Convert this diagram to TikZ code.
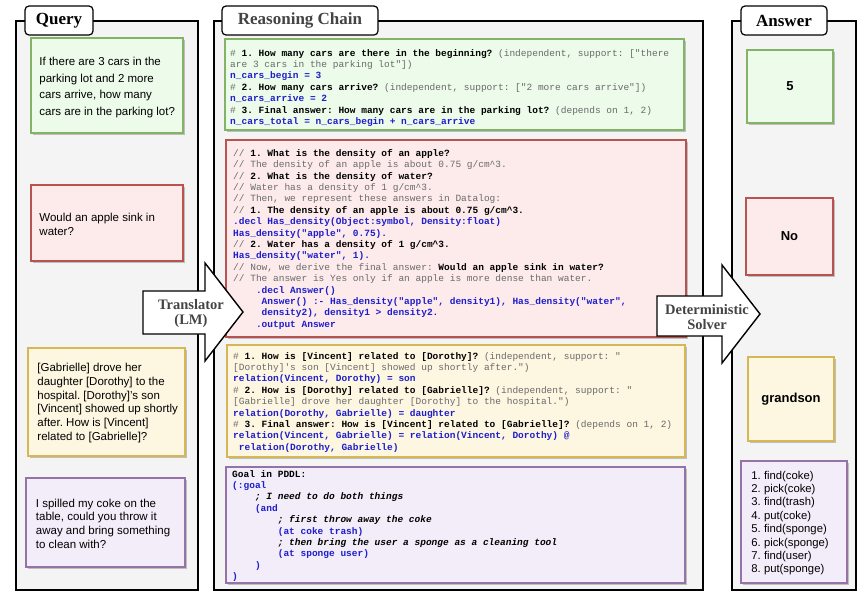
\documentclass[tikz,border=0pt]{standalone}
\usepackage{fontspec}
\setmainfont{Liberation Serif}
\setsansfont{Liberation Sans}
\setmonofont{Liberation Mono}
\usetikzlibrary{shadows}
\AtBeginDocument{\frenchspacing}
\definecolor{panelfill}{HTML}{F4F4F4}
\definecolor{gfill}{HTML}{ECFBEA}
\definecolor{gdraw}{HTML}{82B366}
\definecolor{rfill}{HTML}{FDEBEC}
\definecolor{rdraw}{HTML}{B85450}
\definecolor{yfill}{HTML}{FDF6E1}
\definecolor{ydraw}{HTML}{D6B656}
\definecolor{pfill}{HTML}{F3ECF9}
\definecolor{pdraw}{HTML}{9673A6}
\definecolor{cblue}{HTML}{1E1ECC}
\definecolor{cgray}{HTML}{6A6A6A}
\definecolor{tgray}{HTML}{444444}
\newcommand\cmt[1]{\textcolor{cgray}{#1}}
\newcommand\blu[1]{\textcolor{cblue}{\bfseries #1}}
\newcommand\csp[1]{\hspace*{#1\dimexpr 0.6em\relax}}
\tikzset{
  panel/.style={draw=black, fill=panelfill, line width=1.2pt},
  titlebox/.style={draw=black, fill=white, line width=1.2pt, rounded corners=4pt,
    font=\fontsize{17}{20}\selectfont\bfseries, inner sep=0pt, minimum height=29pt},
  cbox/.style={line width=1.5pt, inner sep=0pt,
    drop shadow={shadow xshift=2pt, shadow yshift=-2pt, fill=black, opacity=0.22}},
  code/.style={font=\ttfamily\fontsize{9.5}{11.4}\selectfont\frenchspacing, align=left, inner sep=0pt, anchor=north west},
  qtxt/.style={align=left, inner sep=0pt, anchor=west},
  ans/.style={font=\sffamily\bfseries\fontsize{13}{15}\selectfont},
  bigarrow/.style={draw=black, fill=white, line width=1.4pt},
  arrowtext/.style={font=\fontsize{14.5}{15}\selectfont\bfseries, text=tgray, align=center, inner sep=0pt}
}
\begin{document}
\begin{tikzpicture}[x=1pt,y=-1pt]
\useasboundingbox (0,0) rectangle (866,597);
% panels
\draw[panel] (16,21) rectangle (198,590);
\draw[panel] (214,21) rectangle (703,590);
\draw[panel] (732,21) rectangle (856,590);
% titles
\node[titlebox, minimum width=68pt] (tq) at (59,20.5) {Query};
\node[titlebox, minimum width=156pt, text=tgray] (tr) at (300,20.5) {Reasoning Chain};
\node[titlebox, minimum width=86pt] (ta) at (784,20.5) {Answer};
% query boxes
\node[cbox, fill=gfill, draw=gdraw, minimum width=152pt, minimum height=95pt] (q1) at (107,85.5) {};
\node[qtxt, font=\sffamily\fontsize{11.5}{16.7}\selectfont] (q1t) at ([xshift=9pt,yshift=-2pt]q1.west)
  {If there are 3 cars in the\\parking lot and 2 more\\cars arrive, how many\\cars are in the parking lot?};
\node[cbox, fill=rfill, draw=rdraw, minimum width=152pt, minimum height=76pt] (q2) at (107,223) {};
\node[qtxt, font=\sffamily\fontsize{11.5}{14}\selectfont] (q2t) at ([xshift=9pt,yshift=-1pt]q2.west)
  {Would an apple sink in\\water?};
\node[cbox, fill=yfill, draw=ydraw, minimum width=157pt, minimum height=108pt] (q3) at (106.5,402) {};
\node[qtxt, font=\sffamily\fontsize{11.5}{13.7}\selectfont] (q3t) at ([xshift=10pt,yshift=-1pt]q3.west)
  {{[}Gabrielle] drove her\\daughter [Dorothy] to the\\hospital. [Dorothy]'s son\\{[}Vincent] showed up shortly\\after. How is [Vincent]\\related to [Gabrielle]?};
\node[cbox, fill=pfill, draw=pdraw, minimum width=159pt, minimum height=89pt] (q4) at (105.5,522.5) {};
\node[qtxt, font=\sffamily\fontsize{11.5}{13.7}\selectfont] (q4t) at ([xshift=10.5pt,yshift=-1pt]q4.west)
  {I spilled my coke on the\\table, could you throw it\\away and bring something\\to clean with?};
% reasoning boxes
\node[cbox, fill=gfill, draw=gdraw, minimum width=459pt, minimum height=91pt] (r1) at (454.5,84.5) {};
\node[cbox, fill=rfill, draw=rdraw, minimum width=460pt, minimum height=197pt] (r2) at (456,238.5) {};
\node[cbox, fill=yfill, draw=ydraw, minimum width=458pt, minimum height=112pt] (r3) at (456,401) {};
\node[cbox, fill=pfill, draw=pdraw, minimum width=459pt, minimum height=116pt] (r4) at (455.5,525) {};
\node[code] (r1t) at (230,49) {%
\cmt{\#} \textbf{1. How many cars are there in the beginning?} \cmt{(independent, support: ["there}\\
\cmt{are 3 cars in the parking lot"])}\\
\blu{n\_cars\_begin = 3}\\
\cmt{\#} \textbf{2. How many cars arrive?} \cmt{(independent, support: ["2 more cars arrive"])}\\
\blu{n\_cars\_arrive = 2}\\
\cmt{\#} \textbf{3. Final answer: How many cars are in the parking lot?} \cmt{(depends on 1, 2)}\\
\blu{n\_cars\_total = n\_cars\_begin + n\_cars\_arrive}};
\node[code] (r2t) at (233,149) {%
\cmt{//} \textbf{1. What is the density of an apple?}\\
\cmt{// The density of an apple is about 0.75 g/cm\textasciicircum 3.}\\
\cmt{//} \textbf{2. What is the density of water?}\\
\cmt{// Water has a density of 1 g/cm\textasciicircum 3.}\\
\cmt{// Then, we represent these answers in Datalog:}\\
\cmt{//} \textbf{1. The density of an apple is about 0.75 g/cm\textasciicircum 3.}\\
\blu{.decl Has\_density(Object:symbol, Density:float)}\\
\blu{Has\_density("apple", 0.75).}\\
\cmt{//} \textbf{2. Water has a density of 1 g/cm\textasciicircum 3.}\\
\blu{Has\_density("water", 1).}\\
\cmt{// Now, we derive the final answer:} \textbf{Would an apple sink in water?}\\
\cmt{// The answer is Yes only if an apple is more dense than water.}\\
\csp{4}\blu{.decl Answer()}\\
\csp{5}\blu{Answer() :- Has\_density("apple", density1), Has\_density("water",}\\
\csp{5}\blu{density2), density1 > density2.}\\
\csp{4}\blu{.output Answer}};
\node[code] (r3t) at (233,352) {%
\cmt{\#} \textbf{1. How is [Vincent] related to [Dorothy]?} \cmt{(independent, support: "}\\
\cmt{[Dorothy]'s son [Vincent] showed up shortly after.")}\\
\blu{relation(Vincent, Dorothy) = son}\\
\cmt{\#} \textbf{2. How is [Dorothy] related to [Gabrielle]?} \cmt{(independent, support: "}\\
\cmt{[Gabrielle] drove her daughter [Dorothy] to the hospital.")}\\
\blu{relation(Dorothy, Gabrielle) = daughter}\\
\cmt{\#} \textbf{3. Final answer: How is [Vincent] related to [Gabrielle]?} \cmt{(depends on 1, 2)}\\
\blu{relation(Vincent, Gabrielle) = relation(Vincent, Dorothy) @}\\
\csp{1}\blu{relation(Dorothy, Gabrielle)}};
\node[code] (r4t) at (232,470) {%
\textbf{Goal in PDDL:}\\
\blu{(:goal}\\
\csp{4}\textbf{\itshape ; I need to do both things}\\
\csp{4}\blu{(and}\\
\csp{8}\textbf{\itshape ; first throw away the coke}\\
\csp{8}\blu{(at coke trash)}\\
\csp{8}\textbf{\itshape ; then bring the user a sponge as a cleaning tool}\\
\csp{8}\blu{(at sponge user)}\\
\csp{4}\blu{)}\\
\blu{)}};
% answer boxes
\node[cbox, fill=gfill, draw=gdraw, minimum width=86pt, minimum height=73pt, ans] (a1) at (790,86.5) {5};
\node[cbox, fill=rfill, draw=rdraw, minimum width=87pt, minimum height=77pt, ans] (a2) at (789.5,236.5) {No};
\node[cbox, fill=yfill, draw=ydraw, minimum width=86pt, minimum height=84pt, ans] (a3) at (791,399) {grandson};
\node[cbox, fill=pfill, draw=pdraw, minimum width=106pt, minimum height=122pt] (a4) at (794,522) {};
\node[qtxt, font=\sffamily\fontsize{11.3}{13.4}\selectfont] (a4t) at ([xshift=11pt,yshift=-1pt]a4.west)
  {1. find(coke)\\2. pick(coke)\\3. find(trash)\\4. put(coke)\\5. find(sponge)\\6. pick(sponge)\\7. find(user)\\8. put(sponge)};
% block arrows
\draw[bigarrow] (143,291) -- (205,291) -- (205,263) -- (243,312) -- (205,361) -- (205,334) -- (143,334) -- cycle;
\node[arrowtext] (trl) at (191,313.5) {Translator\\(LM)};
\draw[bigarrow] (657,296) -- (722,296) -- (722,265) -- (760,314) -- (722,363) -- (722,336) -- (657,336) -- cycle;
\node[arrowtext] (slv) at (707,317) {Deterministic\\Solver};
\end{tikzpicture}
\end{document}
